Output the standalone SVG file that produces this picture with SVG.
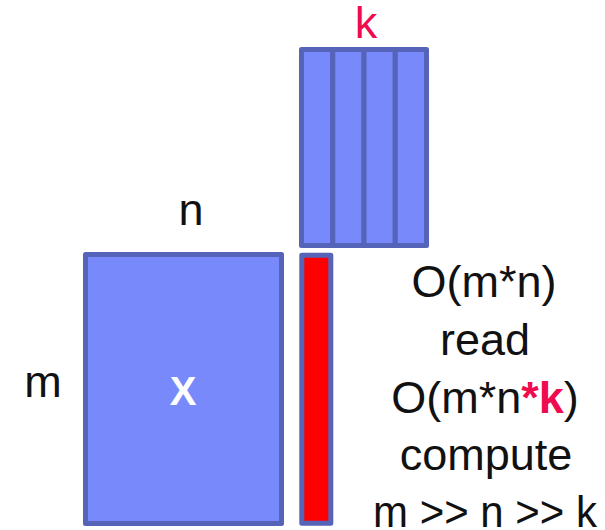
<svg xmlns="http://www.w3.org/2000/svg" width="605" height="530" viewBox="0 0 605 530">
<style>
.blk{fill:#7889fb;stroke:#5563b9;stroke-width:5;stroke-linejoin:round}
.red{fill:#ff0000;stroke:#5563b9;stroke-width:5;stroke-linejoin:round}
.t{font-family:"Liberation Sans",Arial,sans-serif;font-size:45px;fill:#111;text-anchor:middle}
.pink{fill:#ef0b4f}
</style>
<rect width="605" height="530" fill="#ffffff"/>
<g id="W">
<rect class="blk" x="301.5" y="49.5" width="31.25" height="196"/>
<rect class="blk" x="332.75" y="49.5" width="31.25" height="196"/>
<rect class="blk" x="364" y="49.5" width="31.25" height="196"/>
<rect class="blk" x="395.25" y="49.5" width="31.25" height="196"/>
</g>
<g id="X">
<rect class="blk" x="85.5" y="254.5" width="196" height="269"/>
<text x="183" y="405" font-family="Liberation Sans,Arial,sans-serif" font-size="40" font-weight="bold" fill="#ffffff" text-anchor="middle">X</text>
</g>
<g id="col">
<rect class="red" x="301.8" y="255.3" width="29" height="268"/>
</g>
<g id="labels">
<text class="t pink" x="366" y="38">k</text>
<text class="t" x="191" y="225">n</text>
<text class="t" x="43" y="397">m</text>
<text class="t" x="484" y="297">O(m*n)</text>
<text class="t" x="485" y="355">read</text>
<text class="t" x="485" y="413">O(m*n<tspan class="pink" font-weight="bold">*k</tspan>)</text>
<text class="t" x="486" y="470">compute</text>
<text class="t" x="485" y="527" textLength="224" lengthAdjust="spacingAndGlyphs">m &gt;&gt; n &gt;&gt; k</text>
</g>
</svg>
